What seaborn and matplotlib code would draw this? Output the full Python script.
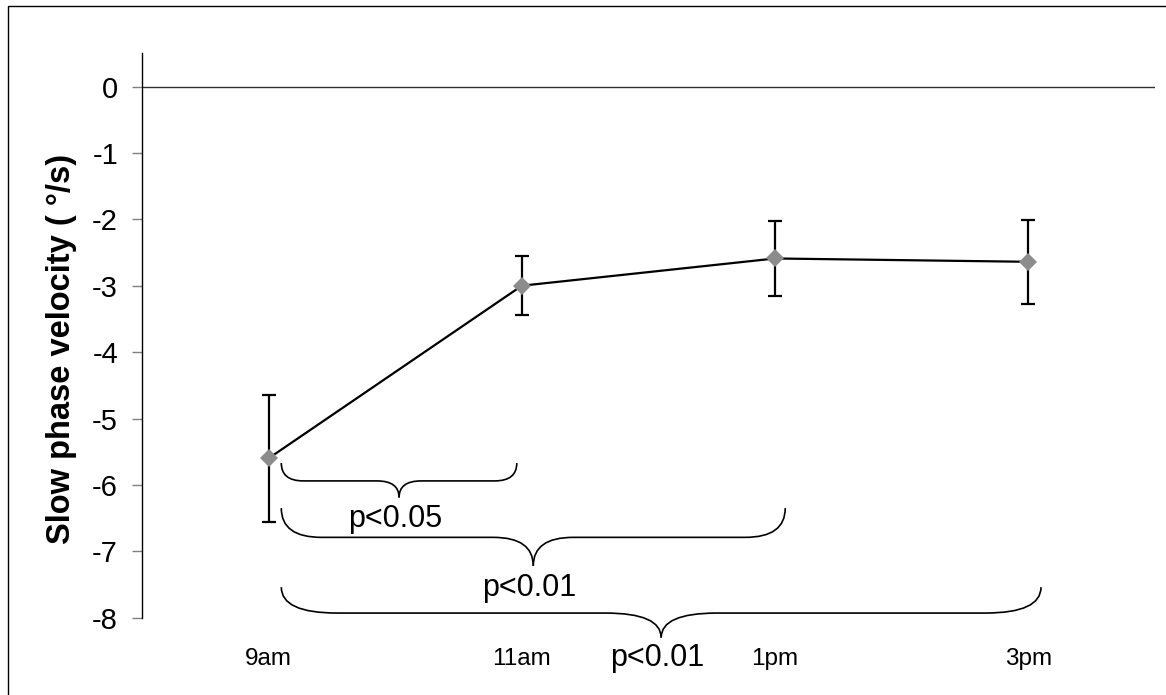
import numpy as np
import pandas as pd
import matplotlib
matplotlib.use("Agg")
import matplotlib.pyplot as plt
import seaborn as sns
from matplotlib.path import Path
from matplotlib.patches import PathPatch, Rectangle

# ---- data ----
times = ["9am", "11am", "1pm", "3pm"]
velocity = [-5.60, -3.00, -2.59, -2.64]
sem = [0.96, 0.44, 0.57, 0.63]
yticks = [0, -1, -2, -3, -4, -5, -6, -7, -8]
comparisons = [(0, 1), (0, 2), (0, 3)]
p_labels = ["p<0.05", "p<0.01", "p<0.01"]

sns.set_theme(style="white")
plt.rcParams["font.family"] = ["Liberation Sans", "DejaVu Sans"]
plt.rcParams["text.color"] = "black"
plt.rcParams["axes.labelcolor"] = "black"
plt.rcParams["xtick.labelcolor"] = "black"
plt.rcParams["ytick.labelcolor"] = "black"

W, H = 1166, 695
fig = plt.figure(figsize=(W / 100, H / 100), dpi=100)
ax = fig.add_axes([142 / W, 1 - 617.7 / H, (1155 - 142) / W, (617.7 - 53.3) / H])

df = pd.DataFrame({"pos": np.arange(len(times)), "v": velocity})

ax.errorbar(df["pos"], df["v"], yerr=sem, fmt="none", ecolor="black",
            elinewidth=1.6, capsize=5.3, capthick=1.6, zorder=2)
sns.lineplot(data=df, x="pos", y="v", color="black", linewidth=1.6,
             marker="D", markersize=9.5, markerfacecolor="#8c8c8c",
             markeredgewidth=0, ax=ax, zorder=3)

ax.axhline(0, color="#303030", linewidth=1.0, zorder=1)

ax.set_xlim(-0.5, len(times) - 0.5)
ax.set_ylim(-8, 0.5)
ax.set_yticks(yticks)
ax.set_yticklabels([str(t) for t in yticks], fontsize=21)
ax.set_xticks(df["pos"])
ax.set_xticklabels(times, fontsize=17.5)
ax.tick_params(axis="x", length=0, pad=22)
ax.tick_params(axis="y", length=7.2, width=1, color="#808080", pad=10, left=True)
ax.set_xlabel("")
ax.set_ylabel("Slow phase velocity ( °/s)", fontsize=23.5, fontweight="bold", va="center")
ax.yaxis.set_label_coords(-0.079, 0.476)

for s in ["top", "right", "bottom"]:
    ax.spines[s].set_visible(False)
ax.spines["left"].set_color("black")
ax.spines["left"].set_linewidth(1.0)

# ---- braces ----
tips = [-5.67, -6.35, -7.54]
horiz = [-5.94, -6.79, -7.93]
points = [-6.19, -7.22, -8.30]
label_y = [-6.52, -7.56, -8.60]
widths = [0.087, 0.158, 0.22]
for (i, j), lab, yt, yh, yp, ly, w in zip(comparisons, p_labels, tips, horiz, points, label_y, widths):
    x0 = i + 0.05
    x1 = j + 0.04 - 0.06 * (j == 1) + 0.01 * (j == 3)
    xm = (x0 + x1) / 2
    verts = [
        (x0, yt), (x0, yh), (x0 + w, yh),
        (xm - w, yh),
        (xm, yh), (xm, yp),
        (xm, yh), (xm + w, yh),
        (x1 - w, yh),
        (x1, yh), (x1, yt),
    ]
    codes = [Path.MOVETO, Path.CURVE3, Path.CURVE3,
             Path.LINETO,
             Path.CURVE3, Path.CURVE3,
             Path.CURVE3, Path.CURVE3,
             Path.LINETO,
             Path.CURVE3, Path.CURVE3]
    p1 = Path(verts[:6], codes[:6])
    p2 = Path([(xm, yp)] + verts[6:], [Path.MOVETO] + codes[6:])
    for p in (p1, p2):
        ax.add_patch(PathPatch(p, fill=False, edgecolor="black", linewidth=1.2,
                               clip_on=False, zorder=2))
    ax.text(xm - 0.015, ly, lab, ha="center", va="center", fontsize=22, clip_on=False)

# ---- outer frame ----
fig.patches.append(Rectangle((8 / W, -0.1), 1.2, 1 - 6 / H + 0.1, fill=False,
                             edgecolor="black", linewidth=1.0,
                             transform=fig.transFigure, figure=fig))

fig.savefig("out.png", dpi=100)
